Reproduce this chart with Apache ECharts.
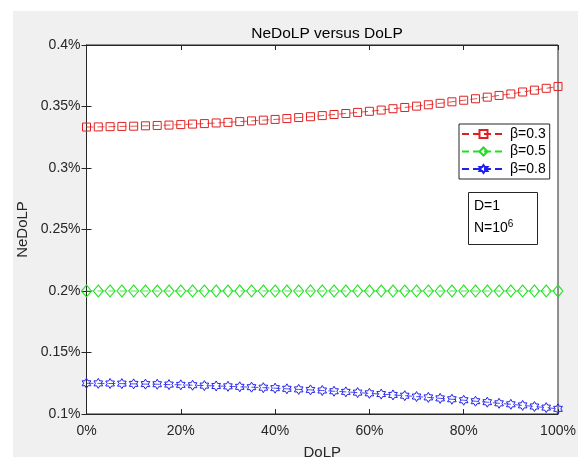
<!DOCTYPE html>
<html>
<head>
<meta charset="utf-8">
<script src="https://cdn.jsdelivr.net/npm/echarts@6/dist/echarts.min.js"></script>
<style>
html,body{margin:0;padding:0;background:#f0f0f0;}
#c{width:578px;height:457px;}
</style>
</head>
<body>
<div id="c"></div>
<script>
// DoLP (%) sample points
var dolp = [0,2.5,5,7.5,10,12.5,15,17.5,20,22.5,25,27.5,30,32.5,35,37.5,40,42.5,45,47.5,50,
            52.5,55,57.5,60,62.5,65,67.5,70,72.5,75,77.5,80,82.5,85,87.5,90,92.5,95,97.5,100];
// NeDoLP (%) for beta = 0.3
var neBeta03 = [0.3333,0.3334,0.3336,0.3338,0.3340,0.3343,0.3346,0.3349,0.3353,0.3357,0.3361,
                0.3366,0.3371,0.3377,0.3383,0.3389,0.3395,0.3402,0.3410,0.3417,0.3426,
                0.3435,0.3443,0.3452,0.3461,0.3471,0.3482,0.3492,0.3503,0.3514,0.3526,
                0.3538,0.3551,0.3563,0.3576,0.3590,0.3602,0.3618,0.3633,0.3648,0.3663];
// NeDoLP (%) for beta = 0.5
var neBeta05 = [0.2,0.2,0.2,0.2,0.2,0.2,0.2,0.2,0.2,0.2,0.2,0.2,0.2,0.2,0.2,0.2,0.2,0.2,0.2,0.2,0.2,
                0.2,0.2,0.2,0.2,0.2,0.2,0.2,0.2,0.2,0.2,0.2,0.2,0.2,0.2,0.2,0.2,0.2,0.2,0.2,0.2];
// NeDoLP (%) for beta = 0.8
var neBeta08 = [0.1250,0.1249,0.1248,0.1247,0.1245,0.1243,0.1242,0.1239,0.1237,0.1234,0.1231,
                0.1228,0.1225,0.1221,0.1218,0.1214,0.1210,0.1205,0.1200,0.1196,0.1191,
                0.1185,0.1180,0.1174,0.1168,0.1162,0.1155,0.1149,0.1142,0.1135,0.1127,
                0.1120,0.1112,0.1104,0.1096,0.1087,0.1079,0.1070,0.1061,0.1052,0.1042];
var seriesNames = ['\u03b2=0.3','\u03b2=0.5','\u03b2=0.8'];
var xTicks = [0,20,40,60,80,100];
var yTicks = [0.1,0.15,0.2,0.25,0.3,0.35,0.4];

function pairs(ys){ return dolp.map(function(x,i){ return [x, ys[i]]; }); }

var FONT = 'Liberation Sans';
var AX = '#262626';
var hexagram = 'path://M100,0 L128.87,50 L186.6,50 L157.7,100 L186.6,150 L128.87,150 L100,200 L71.13,150 L13.4,150 L42.3,100 L13.4,50 L71.13,50 Z';

var chart = echarts.init(document.getElementById('c'), null, {renderer:'canvas'});

function mkSeries(name, data, color, symbol, size){
  return {
    name: name, type: 'line', data: pairs(data),
    symbol: symbol, symbolSize: size, symbolKeepAspect: true, showAllSymbol: true,
    itemStyle: {color: 'rgba(255,255,255,0)', borderColor: color, borderWidth: 1},
    lineStyle: {color: color, width: 0.8, type: [7,4]},
    emphasis: {disabled: true},
    animation: false, z: 3
  };
}

var option = {
  backgroundColor: '#f0f0f0',
  animation: false,
  title: {
    text: 'NeDoLP versus DoLP', left: 322, top: 21, textAlign: 'center',
    textStyle: {fontFamily: FONT, fontSize: 15.5, fontWeight: 'normal', color: '#000'}
  },
  grid: {left: 86.5, right: 20, top: 45, bottom: 43, show: true, backgroundColor: '#fff',
         borderColor: AX, borderWidth: 1, containLabel: false, outerBoundsMode: 'none'},
  legend: {
    orient: 'vertical', left: 459, top: 124,
    data: seriesNames,
    itemWidth: 43, itemHeight: 10, itemGap: 3.5,
    padding: [3, 4, 3, 2],
    backgroundColor: '#fff', borderColor: AX, borderWidth: 1,
    textStyle: {fontFamily: FONT, fontSize: 14, color: '#000'},
    selectedMode: false
  },
  xAxis: [{
    type: 'value', min: xTicks[0], max: xTicks[xTicks.length-1], interval: 20,
    name: 'DoLP', nameLocation: 'middle', nameGap: 31,
    nameTextStyle: {fontFamily: FONT, fontSize: 15, color: AX},
    axisLine: {show: true, lineStyle: {color: AX, width: 1}},
    axisTick: {show: true, inside: true, length: 5, lineStyle: {color: AX}},
    axisLabel: {fontFamily: FONT, fontSize: 14, color: AX, margin: 10, formatter: '{value}%'},
    splitLine: {show: false}
  },{
    type: 'value', position: 'top', min: 0, max: 100, interval: 20,
    axisLine: {show: true, lineStyle: {color: AX, width: 1}},
    axisTick: {show: true, inside: true, length: 5, lineStyle: {color: AX}},
    axisLabel: {show: false}, splitLine: {show: false}
  }],
  yAxis: [{
    type: 'value', min: yTicks[0], max: yTicks[yTicks.length-1], interval: 0.05,
    name: 'NeDoLP', nameLocation: 'middle', nameGap: 48, nameRotate: 90,
    nameTextStyle: {fontFamily: FONT, fontSize: 15, color: AX},
    axisLine: {show: true, lineStyle: {color: AX, width: 1}},
    axisTick: {show: true, inside: true, length: 5, lineStyle: {color: AX}},
    axisLabel: {fontFamily: FONT, fontSize: 14, color: AX, margin: 6,
      formatter: function(v){ return (+v.toFixed(2)) + '%'; }},
    splitLine: {show: false}
  },{
    type: 'value', position: 'right', min: 0.1, max: 0.4, interval: 0.05,
    axisLine: {show: true, lineStyle: {color: AX, width: 1}},
    axisTick: {show: true, inside: true, length: 5, lineStyle: {color: AX}},
    axisLabel: {show: false}, splitLine: {show: false}
  }],
  series: [
    mkSeries(seriesNames[0], neBeta03, '#e02020', 'rect', 8),
    mkSeries(seriesNames[1], neBeta05, '#20e020', 'diamond', [10,12]),
    mkSeries(seriesNames[2], neBeta08, '#2020ee', hexagram, 10)
  ],
  graphic: [
    {type: 'rect', left: 0, top: 0, shape: {width: 578, height: 11}, style: {fill: '#fff'}, silent: true},
    {type: 'rect', left: 0, top: 0, shape: {width: 13, height: 457}, style: {fill: '#fff'}, silent: true},
    {type: 'rect', left: 468, top: 192, z: 10, shape: {width: 69, height: 52},
      style: {fill: '#fff', stroke: AX, lineWidth: 1}},
    {type: 'text', left: 474, top: 199, z: 11,
      style: {text: 'D=1', fontFamily: FONT, fontSize: 14, fill: '#000'}},
    {type: 'text', left: 474, top: 219, z: 11,
      style: {text: 'N=10{s|6}', fontFamily: FONT, fontSize: 14, fill: '#000',
        rich: {s: {fontFamily: FONT, fontSize: 10, verticalAlign: 'top', padding: [0,0,8,0], fill: '#000'}}}}
  ]
};
chart.setOption(option);
</script>
</body>
</html>
